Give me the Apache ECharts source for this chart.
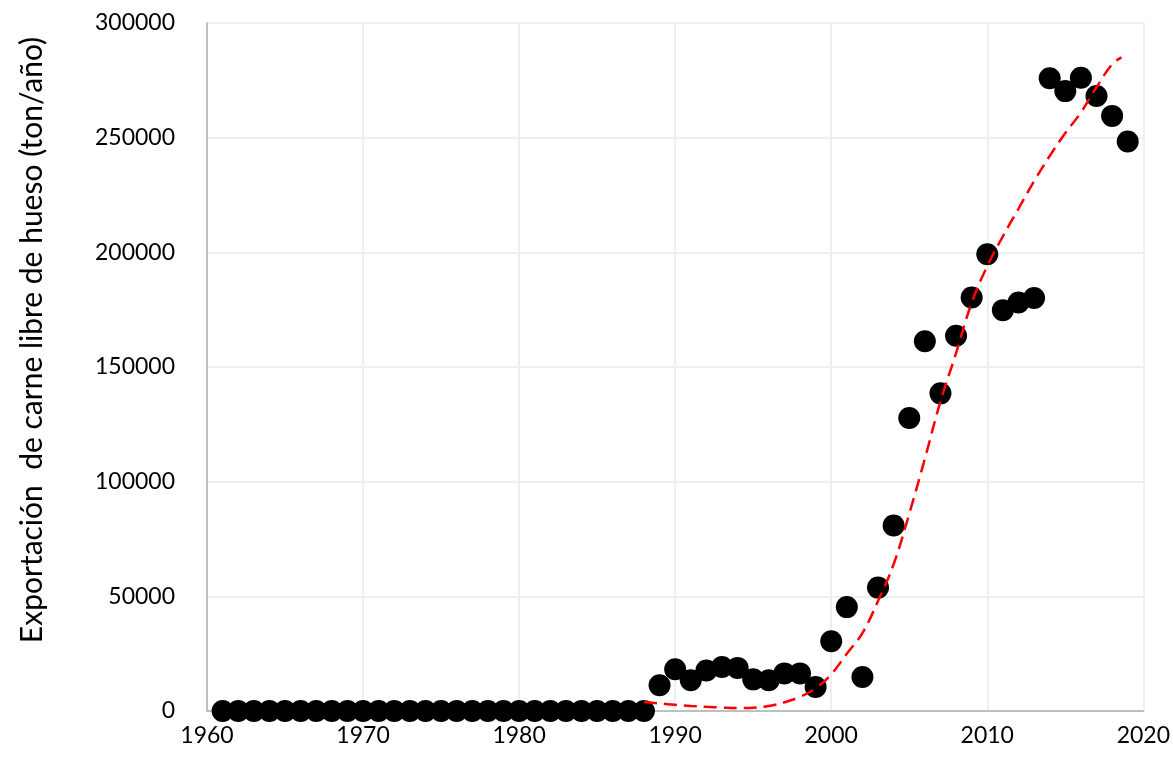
<!DOCTYPE html>
<html><head><meta charset="utf-8">
<script src="https://cdn.jsdelivr.net/npm/echarts@6/dist/echarts.min.js"></script>
<style>html,body{margin:0;padding:0;background:#fff}#c{width:1173px;height:759px}</style>
</head><body><div id="c"></div>
<script>
const years = [];
for (let y = 1961; y <= 2019; y++) years.push(y);
const exportValues = [
  0,0,0,0,0,0,0,0,0,0, 0,0,0,0,0,0,0,0,0,0, 0,0,0,0,0,0,0,0, // 1961-1988
  11200,18200,13400,17700,19200,18800,13800,13400,16400,16400, // 1989-1998
  10500,30400,45300,14800,53800,80900,127800,161200,138500,163600, // 1999-2008
  180300,199200,174800,178100,180100,275900,270300,276100,268200,259500, // 2009-2018
  248300 // 2019
];
const trendYears = [1988,1989,1990,1991,1992,1993,1994,1995,1996,1997,1998,1999,2000,2001,2002,2003,2004,2005,2006,2007,2008,2009,2010,2011,2012,2013,2014,2015,2016,2017,2018,2018.6];
const trendValues = [3900,3300,2700,2200,1800,1500,1300,1400,2200,3800,6200,9900,16000,25000,34000,48000,64000,86000,110000,135000,156000,178000,194000,207000,219000,231000,242000,252000,261000,272000,282000,285000];
const xTicks = [1960,1970,1980,1990,2000,2010,2020];
const yTicks = [0,50000,100000,150000,200000,250000,300000];
const yTitle = 'Exportación  de carne libre de hueso (ton/año)';

const font = 'Lato, "Open Sans", sans-serif';
const chart = echarts.init(document.getElementById('c'), null, {renderer:'canvas'});
chart.setOption({
  animation:false,
  backgroundColor:'#fff',
  grid:{left:207, right:28, top:23, bottom:48, containLabel:false},
  xAxis:{type:'value', min:xTicks[0], max:xTicks[xTicks.length-1], interval:10,
    axisLine:{show:true, onZero:false, lineStyle:{color:'#bfbfbf', width:2}},
    axisTick:{show:false},
    axisLabel:{color:'#000', fontSize:23, fontFamily:font, margin:13, formatter:v=>String(v)},
    splitLine:{show:true, lineStyle:{color:'#efefef', width:2}}},
  yAxis:{type:'value', min:yTicks[0], max:yTicks[yTicks.length-1], interval:50000,
    name:yTitle, nameLocation:'middle', nameGap:160, nameRotate:90,
    nameTextStyle:{color:'#000', fontSize:30, fontFamily:font, padding:[0,0,0,54]},
    axisLine:{show:true, lineStyle:{color:'#bfbfbf', width:2}},
    axisTick:{show:false},
    axisLabel:{color:'#000', fontSize:23, fontFamily:font, margin:32, formatter:v=>String(v)},
    splitLine:{show:true, lineStyle:{color:'#efefef', width:2}}},
  series:[
    {type:'scatter', data:years.map((y,i)=>[y, exportValues[i]]),
     symbol:'circle', symbolSize:22, itemStyle:{color:'#000', opacity:1}, z:2},
    {type:'line', data:trendYears.map((y,i)=>[y, trendValues[i]]),
     smooth:0.4, showSymbol:false, symbol:'none',
     lineStyle:{color:'#ff0000', width:2.5, type:[13,7]}, z:3}
  ]
});
</script></body></html>
